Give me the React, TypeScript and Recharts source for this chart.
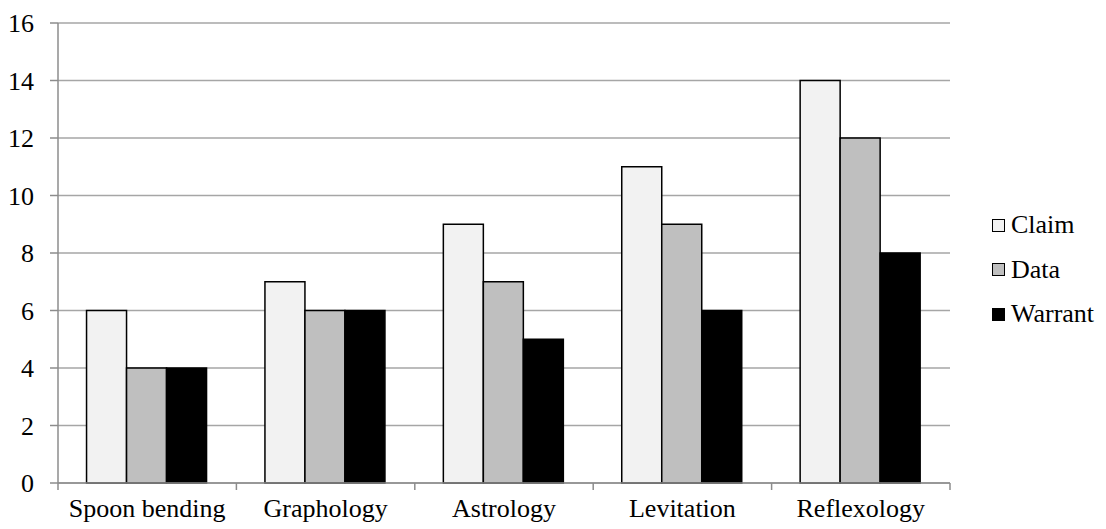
import React from 'react';
import { BarChart, Bar, XAxis, YAxis, CartesianGrid, Legend } from 'recharts';

const categories = ['Spoon bending', 'Graphology', 'Astrology', 'Levitation', 'Reflexology'];
const claim = [6, 7, 9, 11, 14];
const dataVals = [4, 6, 7, 9, 12];
const warrant = [4, 6, 5, 6, 8];
const yTicks = [0, 2, 4, 6, 8, 10, 12, 14, 16];

const seriesInfo = [
  { key: 'Claim', color: '#f2f2f2' },
  { key: 'Data', color: '#bfbfbf' },
  { key: 'Warrant', color: '#000000' },
];

const rows = categories.map((c, i) => ({
  name: c,
  Claim: claim[i],
  Data: dataVals[i],
  Warrant: warrant[i],
}));

const FONT = '"Liberation Serif", "Times New Roman", serif';
const AXIS_COLOR = '#8c8c8c';

const LegendContent = () => (
  <div style={{ fontFamily: FONT, fontSize: 26, color: '#000' }}>
    {seriesInfo.map((s) => (
      <div key={s.key} style={{ display: 'flex', alignItems: 'center', height: 44.5 }}>
        <span
          style={{
            display: 'inline-block',
            width: 11,
            height: 11,
            background: s.color,
            border: '1.5px solid #000',
            marginRight: 6,
          }}
        />
        <span>{s.key}</span>
      </div>
    ))}
  </div>
);

const CategoryTick = (props: any) => {
  const { x, y, payload, index, visibleTicksCount } = props;
  const half = payload && payload.offset ? payload.offset : 0;
  const isLast = index === (visibleTicksCount ?? categories.length) - 1;
  return (
    <g>
      <line x1={x - half} x2={x - half} y1={y} y2={y + 7} stroke={AXIS_COLOR} strokeWidth={1.5} />
      {isLast && (
        <line x1={x + half} x2={x + half} y1={y} y2={y + 7} stroke={AXIS_COLOR} strokeWidth={1.5} />
      )}
      <text
        x={x}
        y={y + 16}
        dy="0.71em"
        textAnchor="middle"
        fill="#000"
        fontSize={26}
        fontFamily={FONT}
      >
        {payload.value}
      </text>
    </g>
  );
};

export default function App() {
  return (
    <div style={{ position: 'absolute', left: 0, top: 0, background: '#fff' }}>
      <BarChart
        width={1106}
        height={529}
        data={rows}
        margin={{ top: 23, right: 156, bottom: 0, left: 0 }}
        barCategoryGap="16%"
        barGap={0}
      >
        <CartesianGrid vertical={false} stroke="#a6a6a6" strokeWidth={1.5} />
        <XAxis
          dataKey="name"
          height={46}
          axisLine={{ stroke: AXIS_COLOR, strokeWidth: 1.5 }}
          tickLine={false}
          tickSize={0}
          tickMargin={0}
          interval={0}
          tick={<CategoryTick />}
        />
        <YAxis
          width={58}
          domain={[0, 16]}
          ticks={yTicks}
          interval={0}
          axisLine={{ stroke: AXIS_COLOR, strokeWidth: 1.5 }}
          tickLine={{ stroke: AXIS_COLOR, strokeWidth: 1.5 }}
          tickSize={8}
          tickMargin={16}
          tick={{ fill: '#000', fontSize: 26, fontFamily: FONT }}
        />
        <Legend
          content={<LegendContent />}
          layout="vertical"
          verticalAlign="middle"
          align="center"
          wrapperStyle={{ left: 992, top: 203, width: 114 }}
        />
        {seriesInfo.map((s) => (
          <Bar
            key={s.key}
            dataKey={s.key}
            fill={s.color}
            stroke="#000"
            strokeWidth={1.5}
            isAnimationActive={false}
          />
        ))}
      </BarChart>
    </div>
  );
}
